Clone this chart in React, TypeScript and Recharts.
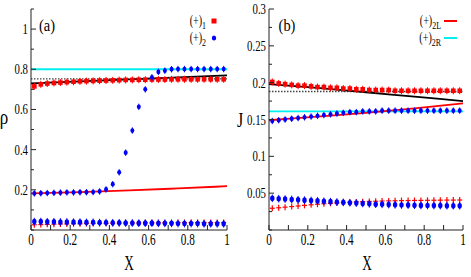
import React from 'react';
import { ComposedChart, Line, Scatter, XAxis, YAxis } from 'recharts';

// ---------- shared x positions of the data points ----------
const X_POS = [
  0.017, 0.05, 0.083, 0.117, 0.15, 0.183, 0.217, 0.25, 0.283, 0.317,
  0.35, 0.383, 0.417, 0.45, 0.483, 0.517, 0.55, 0.583, 0.617, 0.65,
  0.683, 0.717, 0.75, 0.783, 0.817, 0.85, 0.883, 0.917, 0.95, 0.983,
];

// ---------- panel (a): rho ----------
const A_RHO1_UPPER = [
  0.715, 0.725, 0.729, 0.732, 0.734, 0.736, 0.738, 0.74, 0.741, 0.742,
  0.743, 0.744, 0.745, 0.746, 0.747, 0.747, 0.748, 0.748, 0.749, 0.749,
  0.749, 0.75, 0.75, 0.75, 0.75, 0.75, 0.75, 0.75, 0.75, 0.75,
];
const A_RHO1_LOWER = [
  0.026, 0.027, 0.028, 0.029, 0.03, 0.03, 0.031, 0.031, 0.032, 0.032,
  0.033, 0.033, 0.034, 0.034, 0.035, 0.035, 0.035, 0.036, 0.036, 0.036,
  0.036, 0.036, 0.037, 0.037, 0.037, 0.037, 0.037, 0.037, 0.037, 0.037,
];
const A_RHO2_UPPER = [
  0.182, 0.183, 0.184, 0.185, 0.186, 0.187, 0.187, 0.188, 0.188, 0.189,
  0.192, 0.202, 0.228, 0.287, 0.385, 0.495, 0.613, 0.7, 0.76, 0.787,
  0.793, 0.8, 0.801, 0.801, 0.801, 0.801, 0.801, 0.801, 0.801, 0.801,
];
const A_RHO2_LOWER = [
  0.042, 0.042, 0.041, 0.041, 0.04, 0.04, 0.039, 0.039, 0.038, 0.038,
  0.037, 0.037, 0.036, 0.036, 0.035, 0.035, 0.034, 0.034, 0.034, 0.033,
  0.033, 0.033, 0.032, 0.032, 0.032, 0.032, 0.031, 0.031, 0.031, 0.031,
];
const LINE_X = [0, 0.25, 0.5, 0.75, 1];
const A_RED_LINE = [0.182, 0.189, 0.197, 0.207, 0.218];
const A_BLACK_LINE = [0.73, 0.74, 0.75, 0.76, 0.77];
const A_CYAN_LINE = [0.8, 0.8, 0.8, 0.8, 0.8];
const A_DOTTED_LINE = [0.752, 0.752, 0.752, 0.752, 0.752];

// ---------- panel (b): J ----------
const B_J2L_UPPER = [
  0.201, 0.199, 0.198, 0.197, 0.196, 0.196, 0.195, 0.194, 0.194, 0.193,
  0.193, 0.192, 0.192, 0.191, 0.191, 0.19, 0.19, 0.19, 0.19, 0.189,
  0.189, 0.189, 0.189, 0.189, 0.189, 0.189, 0.189, 0.189, 0.189, 0.189,
];
const B_J2L_LOWER = [
  0.0295, 0.0302, 0.031, 0.0318, 0.0326, 0.0334, 0.0342, 0.035, 0.0357, 0.0362,
  0.0367, 0.0372, 0.0377, 0.0381, 0.0385, 0.0388, 0.039, 0.0393, 0.0395, 0.0397,
  0.0399, 0.04, 0.0401, 0.0402, 0.0403, 0.0404, 0.0405, 0.0406, 0.0406, 0.0407,
];
const B_J2R_UPPER = [
  0.148, 0.149, 0.15, 0.151, 0.152, 0.153, 0.154, 0.155, 0.156, 0.157,
  0.158, 0.159, 0.16, 0.16, 0.161, 0.161, 0.161, 0.162, 0.162, 0.162,
  0.162, 0.162, 0.162, 0.162, 0.162, 0.162, 0.162, 0.162, 0.162, 0.162,
];
const B_J2R_LOWER = [
  0.043, 0.0425, 0.042, 0.0415, 0.041, 0.0405, 0.04, 0.0395, 0.039, 0.0385,
  0.038, 0.0375, 0.037, 0.0365, 0.036, 0.0355, 0.035, 0.0348, 0.0345, 0.0342,
  0.034, 0.0338, 0.0336, 0.0334, 0.0333, 0.0332, 0.0331, 0.033, 0.033, 0.033,
];
const B_RED_LINE = [0.149, 0.154, 0.159, 0.165, 0.172];
const B_BLACK_LINE = [0.198, 0.193, 0.187, 0.181, 0.175];
const B_CYAN_LINE = [0.161, 0.161, 0.161, 0.161, 0.161];
const B_DOTTED_LINE = [0.188, 0.188, 0.188, 0.188, 0.188];

// ---------- ticks ----------
const X_TICKS = [0, 0.1, 0.2, 0.3, 0.4, 0.5, 0.6, 0.7, 0.8, 0.9, 1];
const X_LABELS = [0, 0.2, 0.4, 0.6, 0.8, 1];
const A_Y_TICKS = [0, 0.1, 0.2, 0.3, 0.4, 0.5, 0.6, 0.7, 0.8, 0.9, 1, 1.1];
const A_Y_LABELS = [0.2, 0.4, 0.6, 0.8, 1];
const B_Y_TICKS = [
  0, 0.025, 0.05, 0.075, 0.1, 0.125, 0.15, 0.175, 0.2, 0.225, 0.25, 0.275, 0.3,
];
const B_Y_LABELS = [0.05, 0.1, 0.15, 0.2, 0.25, 0.3];

// ---------- legend entries ----------
const A_LEGEND = [
  { label: '(+)', sub: '1', color: '#ff0000', kind: 'square' },
  { label: '(+)', sub: '2', color: '#0000ff', kind: 'dot' },
];
const B_LEGEND = [
  { label: '(+)', sub: '2L', color: '#ff0000', kind: 'line' },
  { label: '(+)', sub: '2R', color: '#00f0f0', kind: 'line' },
];

const FONT = 'Liberation Serif, DejaVu Serif, serif';
const RED = '#ff0000';
const BLUE = '#0000ff';
const CYAN = '#00f0f0';
const FRAME = '#222';

const rows = (xs: number[], ys: number[]) => xs.map((x, i) => ({ x, y: ys[i] }));
const has = (list: number[], v: number) => list.some((l) => Math.abs(l - v) < 1e-6);
const fmt = (v: number) => String(Number(v.toFixed(3)));

const CText = ({ x, y, size, sx = 0.72, anchor = 'middle', children }: any) => (
  <text
    transform={`translate(${x},${y}) scale(${sx},1)`}
    textAnchor={anchor}
    fontSize={size}
    fontFamily={FONT}
    fill="#000"
  >
    {children}
  </text>
);

const makeTick = (side: string, labels: number[] | null) => (props: any) => {
  const { x, y, payload } = props;
  const v = payload.value as number;
  const major = labels ? has(labels, v) : true;
  const len = side === 'bottom' || side === 'top' ? 5 : major ? 5 : 3;
  let line;
  if (side === 'bottom') line = <line x1={x} x2={x} y1={y} y2={y - len} stroke={FRAME} />;
  else if (side === 'top') line = <line x1={x} x2={x} y1={y} y2={y + len} stroke={FRAME} />;
  else if (side === 'left') line = <line x1={x} x2={x + len} y1={y} y2={y} stroke={FRAME} />;
  else line = <line x1={x} x2={x - len} y1={y} y2={y} stroke={FRAME} />;
  let label = null;
  if (labels && major) {
    if (side === 'bottom')
      label = <CText x={x} y={y + 15} size={16} sx={0.7}>{fmt(v)}</CText>;
    else if (side === 'left')
      label = (
        <CText x={x - 3} y={y + 5} size={15} sx={0.72} anchor="end">
          {fmt(v)}
        </CText>
      );
  }
  return (
    <g>
      {line}
      {label}
    </g>
  );
};

const RedSquare = (p: any) => (
  <g>
    <line x1={p.cx} x2={p.cx} y1={p.cy - 3.5} y2={p.cy + 3.5} stroke={RED} />
    <rect x={p.cx - 2.3} y={p.cy - 2.3} width={4.6} height={4.6} fill={RED} />
  </g>
);
const BlueDot = (p: any) => (
  <g>
    <line x1={p.cx} x2={p.cx} y1={p.cy - 3.2} y2={p.cy + 3.2} stroke={BLUE} />
    <ellipse cx={p.cx} cy={p.cy} rx={2} ry={2.4} fill={BLUE} />
  </g>
);
const BlueDiamond = (p: any) => (
  <g>
    <line x1={p.cx} x2={p.cx} y1={p.cy - 3.8} y2={p.cy + 3.8} stroke={BLUE} />
    <ellipse cx={p.cx} cy={p.cy} rx={2.2} ry={2.8} fill={BLUE} />
  </g>
);
const RedPlus = (p: any) => (
  <g stroke={RED} strokeWidth={1.2}>
    <line x1={p.cx - 2.5} x2={p.cx + 2.5} y1={p.cy} y2={p.cy} />
    <line x1={p.cx} x2={p.cx} y1={p.cy - 3} y2={p.cy + 3} />
  </g>
);

const Panel = (cfg: any) => {
  const {
    width, height, margin, yWidth, yDomain, yTicks, yLabels,
    lines, scatters,
  } = cfg;
  return (
    <ComposedChart width={width} height={height} margin={margin}>
      <XAxis
        xAxisId="b" dataKey="x" type="number" domain={[0, 1]} ticks={X_TICKS}
        allowDataOverflow height={47} tickSize={0} tickMargin={0} tickLine={false}
        axisLine={{ stroke: FRAME }} tick={makeTick('bottom', X_LABELS)} interval={0}
      />
      <XAxis
        xAxisId="t" orientation="top" dataKey="x" type="number" domain={[0, 1]}
        ticks={X_TICKS} allowDataOverflow height={0} tickSize={0} tickMargin={0}
        tickLine={false} axisLine={{ stroke: FRAME }} tick={makeTick('top', null)} interval={0}
      />
      <YAxis
        yAxisId="l" dataKey="y" type="number" domain={yDomain} ticks={yTicks}
        allowDataOverflow width={yWidth} tickSize={0} tickMargin={0} tickLine={false}
        axisLine={{ stroke: FRAME }} tick={makeTick('left', yLabels)} interval={0}
      />
      <YAxis
        yAxisId="r" orientation="right" dataKey="y" type="number" domain={yDomain}
        ticks={yTicks} allowDataOverflow width={0} tickSize={0} tickMargin={0}
        tickLine={false} axisLine={{ stroke: FRAME }} tick={makeTick('right', yLabels)}
        interval={0}
      />
      {lines.map((l: any, i: number) => (
        <Line
          key={'l' + i} xAxisId="b" yAxisId="l" data={l.data} dataKey="y"
          type="monotone" stroke={l.color} strokeWidth={l.w} strokeDasharray={l.dash}
          dot={false} activeDot={false} isAnimationActive={false}
        />
      ))}
      {scatters.map((s: any, i: number) => (
        <Scatter
          key={'s' + i} xAxisId="b" yAxisId="l" data={s.data} dataKey="y"
          shape={s.shape} isAnimationActive={false}
        />
      ))}
    </ComposedChart>
  );
};

const LegendBox = ({ items, right, top }: any) => (
  <g>
    {items.map((it: any, i: number) => {
      const y = top + i * 17;
      let glyph;
      if (it.kind === 'square')
        glyph = <rect x={right + 4.5} y={y - 2.5} width={5} height={5} fill={it.color} />;
      else if (it.kind === 'dot')
        glyph = <ellipse cx={right + 7} cy={y} rx={2.2} ry={2.6} fill={it.color} />;
      else
        glyph = <line x1={right + 2} x2={right + 15} y1={y} y2={y} stroke={it.color} strokeWidth={2} />;
      return (
        <g key={i}>
          <text
            transform={`translate(${right - 1},${y + 4}) scale(0.72,1)`}
            textAnchor="end" fontSize={14} fontFamily={FONT} fill="#000"
          >
            {it.label}
            <tspan fontSize={11} dy={4}>{it.sub}</tspan>
          </text>
          {glyph}
        </g>
      );
    })}
  </g>
);

export default function App() {
  const aLines = [
    { data: rows(LINE_X, A_CYAN_LINE), color: CYAN, w: 1.8 },
    { data: rows(LINE_X, A_DOTTED_LINE), color: '#444', w: 1.4, dash: '1.5 1.5' },
    { data: rows(LINE_X, A_BLACK_LINE), color: '#000', w: 1.8 },
    { data: rows(LINE_X, A_RED_LINE), color: RED, w: 1.8 },
  ];
  const aScatters = [
    { data: rows(X_POS, A_RHO1_LOWER), shape: RedPlus },
    { data: rows(X_POS, A_RHO2_LOWER), shape: BlueDiamond },
    { data: rows(X_POS, A_RHO1_UPPER), shape: RedSquare },
    { data: rows(X_POS, A_RHO2_UPPER), shape: BlueDot },
  ];
  const bLines = [
    { data: rows(LINE_X, B_CYAN_LINE), color: CYAN, w: 1.8 },
    { data: rows(LINE_X, B_DOTTED_LINE), color: '#444', w: 1.4, dash: '1.5 1.5' },
    { data: rows(LINE_X, B_BLACK_LINE), color: '#000', w: 1.8 },
    { data: rows(LINE_X, B_RED_LINE), color: RED, w: 1.8 },
  ];
  const bScatters = [
    { data: rows(X_POS, B_J2L_LOWER), shape: RedPlus },
    { data: rows(X_POS, B_J2R_LOWER), shape: BlueDiamond },
    { data: rows(X_POS, B_J2L_UPPER), shape: RedSquare },
    { data: rows(X_POS, B_J2R_UPPER), shape: BlueDot },
  ];
  return (
    <div style={{ position: 'absolute', left: 0, top: 0, width: 471, height: 277, background: '#fff' }}>
      <div style={{ position: 'absolute', left: 0, top: 0 }}>
        <Panel
          width={240} height={277} margin={{ top: 9, right: 13, left: 0, bottom: 0 }}
          yWidth={31} yDomain={[0, 1.1]} yTicks={A_Y_TICKS} yLabels={A_Y_LABELS}
          lines={aLines} scatters={aScatters}
        />
      </div>
      <div style={{ position: 'absolute', left: 235, top: 0 }}>
        <Panel
          width={236} height={277} margin={{ top: 9, right: 8, left: 0, bottom: 0 }}
          yWidth={34} yDomain={[0, 0.3]} yTicks={B_Y_TICKS} yLabels={B_Y_LABELS}
          lines={bLines} scatters={bScatters}
        />
      </div>
      <svg width={471} height={277} style={{ position: 'absolute', left: 0, top: 0, pointerEvents: 'none' }}>
        <CText x={47} y={31} size={17} sx={0.85}>(a)</CText>
        <CText x={287} y={31} size={17} sx={0.85}>(b)</CText>
        <CText x={4} y={124} size={20} sx={0.85}>ρ</CText>
        <CText x={240} y={127} size={20} sx={0.8}>J</CText>
        <CText x={129} y={270} size={22} sx={0.6}>X</CText>
        <CText x={367} y={270} size={22} sx={0.6}>X</CText>
        <LegendBox items={A_LEGEND} right={207} top={21} />
        <LegendBox items={B_LEGEND} right={442} top={21} />
      </svg>
    </div>
  );
}
